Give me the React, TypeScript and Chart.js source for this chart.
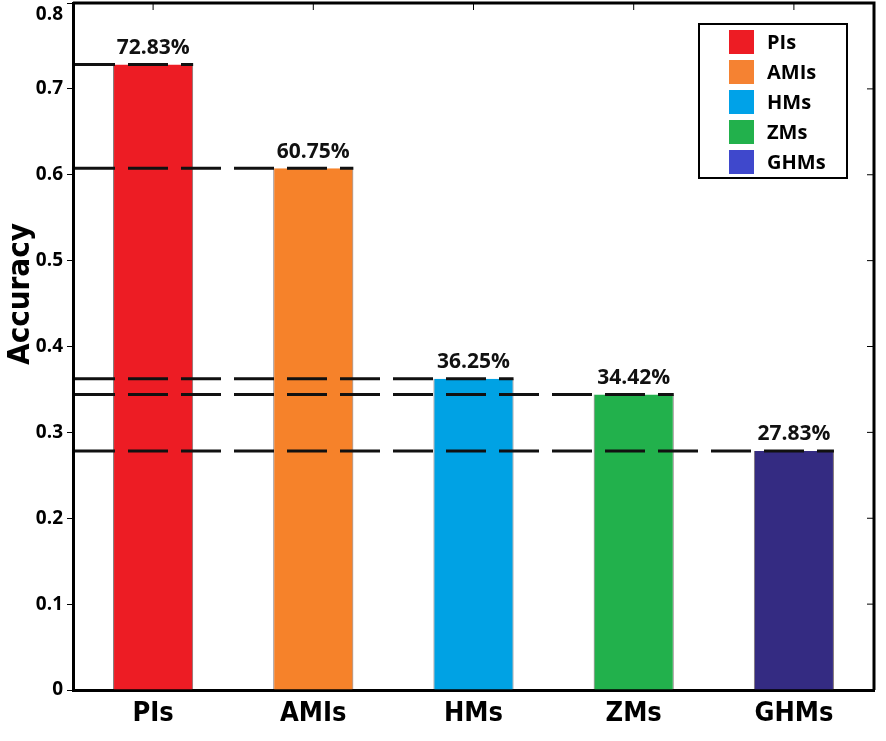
import React, { useEffect, useRef } from 'react';
import Chart from 'chart.js/auto';

const categories = ['PIs', 'AMIs', 'HMs', 'ZMs', 'GHMs'];
const accuracy = [0.7283, 0.6075, 0.3625, 0.3442, 0.2783];
const valueLabels = ['72.83%', '60.75%', '36.25%', '34.42%', '27.83%'];
const barColors = ['#ED1C24', '#F6822A', '#00A2E4', '#22B14C', '#342B82'];
const legendColors = ['#ED1C24', '#F58232', '#00A2E8', '#22B14C', '#3F48CC'];

const NARROW = "'Liberation Sans Narrow', 'DejaVu Sans Condensed', sans-serif";
const SANS = "'Open Sans', 'DejaVu Sans', sans-serif";

// рамка, штрихи-пунктиры, подписи значений, легенда и подпись оси
const decorPlugin = {
  id: 'decor',
  afterDatasetsDraw(chart: any) {
    const { ctx, chartArea, scales } = chart;
    const meta = chart.getDatasetMeta(0);
    ctx.save();

    // пунктир от оси до верха столбца
    ctx.strokeStyle = '#111';
    ctx.lineWidth = 3;
    ctx.setLineDash([40, 13]);
    meta.data.forEach((bar: any) => {
      ctx.beginPath();
      ctx.moveTo(chartArea.left + 2, bar.y);
      ctx.lineTo(bar.x + bar.width / 2, bar.y);
      ctx.stroke();
    });
    ctx.setLineDash([]);

    // подписи значений
    ctx.fillStyle = '#111';
    ctx.font = `bold 21px ${SANS}`;
    ctx.textAlign = 'center';
    ctx.textBaseline = 'bottom';
    meta.data.forEach((bar: any, i: number) => {
      ctx.fillText(valueLabels[i], bar.x, bar.y - 6);
    });

    // верхняя и правая рамка
    ctx.strokeStyle = '#000';
    ctx.lineWidth = 3;
    ctx.beginPath();
    ctx.moveTo(chartArea.left, chartArea.top);
    ctx.lineTo(chartArea.right, chartArea.top);
    ctx.lineTo(chartArea.right, chartArea.bottom);
    ctx.stroke();

    // мелкие внутренние штрихи
    ctx.lineWidth = 1;
    categories.forEach((_, i) => {
      const x = scales.x.getPixelForValue(i);
      ctx.beginPath();
      ctx.moveTo(x, chartArea.top);
      ctx.lineTo(x, chartArea.top + 7);
      ctx.stroke();
    });
    scales.y.ticks.forEach((t: any) => {
      const y = scales.y.getPixelForValue(t.value);
      ctx.beginPath();
      ctx.moveTo(chartArea.right, y);
      ctx.lineTo(chartArea.right - 7, y);
      ctx.stroke();
    });

    // легенда
    const lx = 699, ly = 24, lw = 148, lh = 154;
    ctx.fillStyle = '#fff';
    ctx.fillRect(lx, ly, lw, lh);
    ctx.strokeStyle = '#000';
    ctx.lineWidth = 2;
    ctx.strokeRect(lx, ly, lw, lh);
    ctx.font = `bold 20px ${SANS}`;
    ctx.textAlign = 'left';
    ctx.textBaseline = 'middle';
    categories.forEach((name, i) => {
      const cy = ly + 18 + i * 30;
      ctx.fillStyle = legendColors[i];
      ctx.fillRect(lx + 30, cy - 12, 25, 24);
      ctx.fillStyle = '#000';
      ctx.fillText(name, lx + 68, cy + 1);
    });

    // подпись оси Y
    ctx.translate(29, 294);
    ctx.rotate(-Math.PI / 2);
    ctx.font = `bold 31px ${NARROW}`;
    ctx.textAlign = 'center';
    ctx.textBaseline = 'alphabetic';
    ctx.fillStyle = '#000';
    ctx.fillText('Accuracy', 0, 0);
    ctx.restore();
  },
};

export default function App() {
  const canvasRef = useRef<HTMLCanvasElement>(null);

  useEffect(() => {
    document.body.style.margin = '0';
    if (!canvasRef.current) return;

    const chart = new Chart(canvasRef.current, {
      type: 'bar',
      data: {
        labels: categories,
        datasets: [{
          data: accuracy,
          backgroundColor: barColors,
          borderColor: 'rgba(40,20,20,0.6)',
          borderWidth: { left: 1, right: 1, top: 0, bottom: 0 },
          categoryPercentage: 1,
          barPercentage: 0.5,
        }],
      },
      options: {
        animation: false,
        responsive: true,
        maintainAspectRatio: false,
        layout: { padding: { top: 3, right: 12, left: 0, bottom: 0 } },
        plugins: {
          legend: { display: false },
          tooltip: { enabled: false },
        },
        scales: {
          x: {
            grid: { display: true, drawOnChartArea: false, drawTicks: false },
            border: { color: '#000', width: 3 },
            ticks: {
              color: '#000',
              padding: 8,
              font: { family: NARROW, size: 27, weight: 'bold' },
            },
            afterFit: (s: any) => {
              s.height = 51;
              s.paddingLeft = 0;
              s.paddingRight = 0;
            },
          },
          y: {
            min: 0,
            max: 0.8,
            ticks: {
              stepSize: 0.1,
              color: '#000',
              padding: 4,
              font: { family: SANS, size: 19, weight: 'bold' },
              // верхняя подпись сдвинута вниз, как на оригинале
              callback: (v: any) => {
                const label = Number(v) === 0 ? '0' : Number(v).toFixed(1);
                return Math.abs(Number(v) - 0.8) < 1e-9 ? ['', label] : label;
              },
            },
            grid: { drawOnChartArea: false, tickLength: 6, color: '#000', lineWidth: 1 },
            border: { color: '#000', width: 3 },
            afterFit: (s: any) => {
              s.width = 73;
              s.paddingTop = 0;
              s.paddingBottom = 0;
            },
          },
        },
      },
      plugins: [decorPlugin],
    });

    return () => chart.destroy();
  }, []);

  return (
    <div style={{ width: '886px', height: '741px', position: 'relative', background: '#fff' }}>
      <canvas ref={canvasRef} />
    </div>
  );
}
